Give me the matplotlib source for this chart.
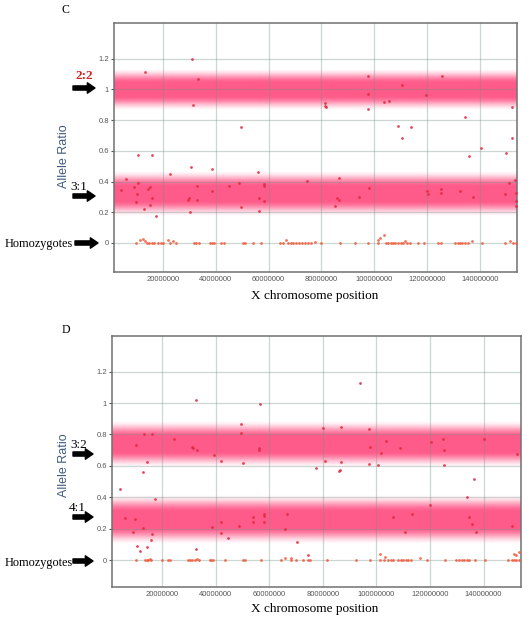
import numpy as np
import matplotlib
matplotlib.use("Agg")
import matplotlib.pyplot as plt
from matplotlib.patches import FancyArrowPatch

# positions in Mb, allele ratio
C_het_x = [13.4, 30.9, 33.1, 31.4, 49.5, 10.6, 15.8, 30.5, 38.6, 22.6, 56.0, 6.2, 74.7, 48.9,
           4.1, 9.0, 10.5, 10.3, 10.0, 12.7, 14.4, 15.1, 16.0, 15.2, 17.3, 32.8, 30.0, 29.5,
           32.8, 30.1, 38.6, 44.9, 49.7, 56.2, 58.3, 58.3, 58.3, 56.5,
           97.5, 125.8, 110.4, 97.5, 119.4, 81.3, 81.5, 81.6, 103.7, 105.6, 97.8, 152.2, 134.4,
           108.9, 113.7, 110.3, 152.2, 140.5, 135.9, 150.0, 86.8, 98.1, 153.3, 151.1, 85.8,
           86.6, 85.2, 94.1, 120.1, 120.5, 125.2, 125.2, 132.3, 137.4, 149.3, 153.5, 153.8, 153.8]
C_het_y = [1.114, 1.20, 1.07, 0.90, 0.754, 0.573, 0.573, 0.495, 0.48, 0.451, 0.46, 0.419, 0.402, 0.391,
           0.345, 0.367, 0.389, 0.317, 0.267, 0.219, 0.352, 0.365, 0.295, 0.25, 0.176, 0.369, 0.295, 0.28,
           0.28, 0.202, 0.341, 0.371, 0.232, 0.293, 0.384, 0.37, 0.272, 0.208,
           1.086, 1.09, 1.031, 0.968, 0.962, 0.912, 0.894, 0.883, 0.917, 0.925, 0.875, 0.886, 0.819,
           0.76, 0.754, 0.682, 0.682, 0.617, 0.569, 0.584, 0.423, 0.36, 0.412, 0.389, 0.295,
           0.28, 0.243, 0.298, 0.341, 0.317, 0.35, 0.326, 0.341, 0.302, 0.321, 0.326, 0.276, 0.24]

C_hom_x = [9.9, 11.4, 12.4, 13.3, 14.1, 14.9, 15.8, 16.8, 18.1, 19.1, 20.0, 22.1, 22.7, 24.0, 24.9,
           31.7, 32.6, 33.5, 37.7, 38.6, 39.3, 42.1, 43.1, 50.2, 50.9, 54.1, 57.3, 64.4, 65.5,
           66.5, 67.3, 68.4, 69.2, 70.5, 71.4, 72.7, 73.7, 74.9, 75.9, 77.7, 80.0, 86.9, 92.6,
           97.7, 101.4, 101.4, 102.1, 103.7, 104.6, 105.2, 106.2, 107.1, 108.0, 109.0, 110.0, 110.9,
           111.5, 112.4, 113.4, 116.6, 118.9, 124.2, 125.4, 130.5, 131.5, 132.4, 133.3, 134.3,
           135.3, 136.8, 140.6, 149.4, 151.3, 152.6, 153.5]
C_hom_y = [0, 0.02, 0.025, 0.015, 0, 0, 0, 0, 0, 0, 0, 0.02, 0, 0.01, 0,
           0, 0, 0, 0, 0, 0, 0, 0, 0, 0, 0, 0, 0, 0,
           0.02, 0, 0, 0, 0, 0, 0, 0, 0, 0, 0.005, 0, 0, 0,
           0, 0.02, 0, 0.035, 0.055, 0, 0, 0, 0, 0, 0, 0, 0,
           0.01, 0, 0, 0, 0, 0, 0, 0, 0, 0, 0, 0,
           0, 0.01, 0, 0, 0.015, 0, 0]

D_het_x = [32.8, 56.6, 49.6, 49.6, 13.4, 16.3, 24.4, 10.2, 31.3, 31.7, 33.2, 56.3, 56.1, 39.2,
           42.0, 50.1, 14.3, 12.9, 77.3, 4.2, 17.4, 6.3, 10.0, 54.0, 54.0, 58.2, 58.2, 58.2, 66.5,
           42.1, 13.0, 38.5, 48.9, 66.0, 9.3, 16.3, 42.1, 44.7, 15.9, 70.4, 10.5, 14.5, 11.7,
           32.6, 74.5,
           94.0, 79.9, 86.7, 97.4, 103.6, 125.0, 125.1, 120.3, 140.3, 97.7, 108.7, 101.6, 152.4,
           80.8, 86.7, 97.4, 100.5, 125.2, 85.9, 86.3, 136.3, 133.9, 120.0, 113.4, 106.1, 134.6,
           135.7, 150.6, 110.6, 137.1]
D_het_y = [1.021, 0.994, 0.868, 0.809, 0.80, 0.80, 0.771, 0.733, 0.721, 0.713, 0.699, 0.713, 0.703, 0.671,
           0.631, 0.616, 0.622, 0.563, 0.586, 0.454, 0.391, 0.265, 0.261, 0.275, 0.244, 0.29, 0.28, 0.242, 0.29,
           0.242, 0.206, 0.208, 0.219, 0.197, 0.178, 0.168, 0.174, 0.139, 0.125, 0.117, 0.091, 0.08, 0.055,
           0.071, 0.034,
           1.127, 0.839, 0.849, 0.834, 0.758, 0.771, 0.70, 0.749, 0.771, 0.718, 0.713, 0.682, 0.675,
           0.633, 0.622, 0.612, 0.603, 0.603, 0.566, 0.576, 0.518, 0.401, 0.348, 0.296, 0.277, 0.277,
           0.231, 0.219, 0.178, 0.178]

D_hom_x = [10.4, 13.5, 14.2, 14.8, 15.4, 16.0, 19.8, 22.2, 22.9, 29.5, 30.3, 31.0, 32.4, 33.2, 33.7,
           37.8, 38.4, 39.0, 43.4, 50.2, 50.8, 57.1, 64.5, 65.8, 68.0, 68.3, 70.1, 72.6, 74.5, 75.1,
           81.4, 92.4, 97.6, 101.3, 101.3, 102.9, 103.3, 104.5, 105.4, 106.3, 108.2, 109.2, 110.0,
           110.9, 111.9, 112.9, 116.3, 118.8, 125.6, 129.9, 130.8, 131.8, 132.8, 133.8, 134.6,
           136.8, 140.5, 149.2, 150.5, 151.5, 151.5, 152.3, 152.3, 153.2, 153.2]
D_hom_y = [0, 0, 0, 0, 0.005, 0, 0, 0, 0, 0, 0, 0, 0, 0.005, 0,
           0, 0, 0, 0, 0, 0, 0, 0, 0.01, 0.01, 0, 0, 0, 0, 0,
           0, 0, 0, 0.04, 0, 0, 0.02, 0, 0, 0, 0, 0, 0,
           0, 0, 0, 0.01, 0, 0, 0, 0, 0, 0, 0, 0,
           0, 0, 0, 0, 0.04, 0, 0.03, 0, 0.05, 0]

X_TICKS = [20000000, 40000000, 60000000, 80000000, 100000000, 120000000, 140000000]
Y_TICKS = [0, 0.2, 0.4, 0.6, 0.8, 1.0, 1.2]
Y_TICK_LABELS = ["0", "0.2", "0.4", "0.6", "0.8", "1", "1.2"]

BAND_RGB = (1.0, 0.24, 0.46)
HET_COLOR = "#e0283c"
HOM_COLOR = "#f05a3a"
SERIF = "Liberation Serif"
SANS = "Liberation Sans"

W, H = 532, 621


def band(ax, center, half, xlim):
    # pink band: solid core fading out towards the edges
    t = np.linspace(-1, 1, 201)
    s = np.clip((np.abs(t) - 0.3) / 0.7, 0, 1)
    alpha = 0.85 * (1 - s * s * (3 - 2 * s))
    img = np.zeros((len(t), 1, 4))
    img[:, 0, :3] = BAND_RGB
    img[:, 0, 3] = alpha
    ax.imshow(img, extent=[xlim[0], xlim[1], center - half, center + half],
              aspect="auto", origin="lower", interpolation="bilinear", zorder=0)


def panel(fig, rect, xlim, ylim, bands, het_x, het_y, hom_x, hom_y):
    ax = fig.add_axes(rect)
    for c, h in bands:
        band(ax, c, h, xlim)
    ax.scatter(np.array(het_x) * 1e6, het_y, s=4, color=HET_COLOR, alpha=0.85, lw=0, zorder=3)
    ax.scatter(np.array(hom_x) * 1e6, hom_y, s=4, color=HOM_COLOR, alpha=0.85, lw=0, zorder=3)
    ax.set_xlim(*xlim)
    ax.set_ylim(*ylim)
    ax.set_xticks(X_TICKS)
    ax.set_xticklabels([str(v) for v in X_TICKS])
    ax.set_yticks(Y_TICKS)
    ax.set_yticklabels(Y_TICK_LABELS)
    ax.grid(True, color="#6e8f86", alpha=0.35, lw=0.9)
    ax.tick_params(axis="x", length=0, pad=3, labelsize=5.5, labelcolor="#555555")
    ax.tick_params(axis="y", length=2, width=0.8, pad=1.5, labelsize=5.5,
                   labelcolor="#555555", color="#555555")
    for lab in ax.get_xticklabels() + ax.get_yticklabels():
        lab.set_family(SANS)
    for sp in ax.spines.values():
        sp.set_color("#707070")
        sp.set_linewidth(1.1)
    return ax


def fy(py):
    return 1 - py / H


def arrow(fig, x0, x1, py):
    fig.add_artist(FancyArrowPatch(
        (x0, H - py), (x1, H - py), transform=None,
        arrowstyle="simple,tail_width=0.3,head_width=0.75,head_length=0.55",
        mutation_scale=10, color="black", shrinkA=0, shrinkB=0))


fig = plt.figure(figsize=(W / 100, H / 100), dpi=100)

xlim_c = (1.5e6, 154e6)
panel(fig, [114 / W, fy(272), 403 / W, 249 / H], xlim_c, (-0.189, 1.433),
      [(1.0, 0.14), (0.32, 0.15)], C_het_x, C_het_y, C_hom_x, C_hom_y)

xlim_d = (1.3e6, 154e6)
panel(fig, [112 / W, fy(587), 409 / W, 251 / H], xlim_d, (-0.172, 1.427),
      [(0.735, 0.15), (0.255, 0.16)], D_het_x, D_het_y, D_hom_x, D_hom_y)

# panel letters and axis titles
fig.text(62 / W, fy(10), "C", family=SERIF, fontsize=8.5, ha="left", va="center")
fig.text(62 / W, fy(330), "D", family=SERIF, fontsize=8.5, ha="left", va="center")
fig.text(315 / W, fy(296), "X chromosome position", family=SERIF, fontsize=9.5, ha="center", va="center")
fig.text(315 / W, fy(609), "X chromosome position", family=SERIF, fontsize=9.5, ha="center", va="center")
fig.text(64 / W, fy(156), "Allele Ratio", family=SANS, fontsize=9, color="#3e5c7e",
         rotation=90, ha="center", va="center")
fig.text(64 / W, fy(465), "Allele Ratio", family=SANS, fontsize=9, color="#3e5c7e",
         rotation=90, ha="center", va="center")

# state labels and arrows
fig.text(84.5 / W, fy(76), "2:2", family=SERIF, fontsize=9.5, weight="bold", color="#d42020",
         ha="center", va="center")
arrow(fig, 73, 95, 88)
fig.text(78.5 / W, fy(187), "3:1", family=SERIF, fontsize=9.5, ha="center", va="center")
arrow(fig, 73, 95, 196)
fig.text(73 / W, fy(244), "Homozygotes", family=SERIF, fontsize=8.8, ha="right", va="center")
arrow(fig, 75, 98, 243)

fig.text(79 / W, fy(445), "3:2", family=SERIF, fontsize=9.5, ha="center", va="center")
arrow(fig, 73, 93, 454)
fig.text(77 / W, fy(508), "4:1", family=SERIF, fontsize=9.5, ha="center", va="center")
arrow(fig, 73, 93, 517)
fig.text(73 / W, fy(563), "Homozygotes", family=SERIF, fontsize=8.8, ha="right", va="center")
arrow(fig, 73, 93, 561)

fig.savefig("out.png", dpi=100)
